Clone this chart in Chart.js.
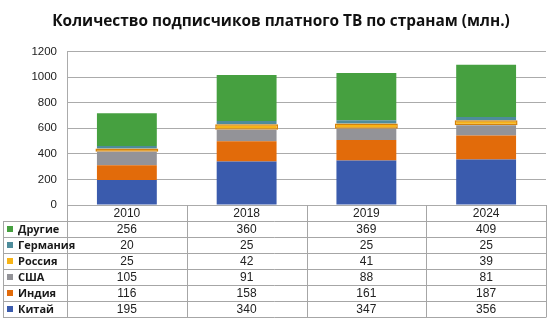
<!DOCTYPE html>
<html>
<head>
<meta charset="utf-8">
<script src="https://cdn.jsdelivr.net/npm/chart.js@4"></script>
<style>
  html, body { margin: 0; padding: 0; background: #fff; }
  #wrap { width: 552px; height: 323px; }
</style>
</head>
<body>
<div id="wrap"><canvas id="c" width="552" height="323"></canvas></div>
<script>
// Pay-TV subscribers by country, millions
const years = ['2010', '2018', '2019', '2024'];
const china   = [195, 340, 347, 356];
const india   = [116, 158, 161, 187];
const usa     = [105, 91, 88, 81];
const russia  = [25, 42, 41, 39];
const germany = [20, 25, 25, 25];
const others  = [256, 360, 369, 409];
const yTicks  = [0, 200, 400, 600, 800, 1000, 1200];

const series = [
  { label: 'Китай',    data: china,   color: '#3A5BAD', border: '#3A5BAD' },
  { label: 'Индия',    data: india,   color: '#E26B0A', border: '#E26B0A' },
  { label: 'США',      data: usa,     color: '#939398', border: '#939398' },
  { label: 'Россия',   data: russia,  color: '#F7B417', border: '#D4820C' },
  { label: 'Германия', data: germany, color: '#4E8C9B', border: '#4E8C9B' },
  { label: 'Другие',   data: others,  color: '#46A040', border: '#46A040' }
];

const ROW_H = 16;
const HEAD_H = 16;
const LEFT_COL_X = 3;

// Draws the data table under the plot, aligned with the category scale
const dataTable = {
  id: 'dataTable',
  afterDraw(chart) {
    const ctx = chart.ctx;
    const xs = chart.scales.x;
    const area = chart.chartArea;
    const n = years.length;
    const catW = (area.right - area.left) / n;
    const top = area.bottom;
    const rowsTop = top + HEAD_H;
    const rows = series.slice().reverse();
    const bottom = rowsTop + rows.length * ROW_H;

    ctx.save();
    ctx.strokeStyle = '#A6A6A6';
    ctx.lineWidth = 1;
    ctx.beginPath();
    // vertical lines of the category columns
    for (let i = 0; i <= n; i++) {
      const x = Math.round(area.left + i * catW) + 0.5;
      ctx.moveTo(x, top);
      ctx.lineTo(x, bottom);
    }
    // left border of the legend column
    ctx.moveTo(LEFT_COL_X + 0.5, rowsTop);
    ctx.lineTo(LEFT_COL_X + 0.5, bottom);
    // horizontal row lines
    for (let r = 0; r <= rows.length; r++) {
      const y = Math.round(rowsTop + r * ROW_H) + 0.5;
      ctx.moveTo(LEFT_COL_X, y);
      ctx.lineTo(Math.round(area.right) + 0.5, y);
    }
    ctx.stroke();

    // header: years
    ctx.fillStyle = '#222';
    ctx.textAlign = 'center';
    ctx.textBaseline = 'middle';
    ctx.font = '12px "Liberation Sans", Arial, sans-serif';
    years.forEach((yr, i) => {
      ctx.fillText(yr, xs.getPixelForValue(i), top + HEAD_H / 2 + 1);
    });

    // rows: legend key + values
    rows.forEach((s, r) => {
      const cy = rowsTop + r * ROW_H + ROW_H / 2 + 1;
      ctx.fillStyle = s.color;
      ctx.fillRect(7, Math.round(cy - 4), 6, 6);
      ctx.fillStyle = '#1a1a1a';
      ctx.textAlign = 'left';
      ctx.font = 'bold 11px "Open Sans", "Liberation Sans", sans-serif';
      ctx.fillText(s.label, 18, cy);
      ctx.textAlign = 'center';
      ctx.font = '12px "Liberation Sans", Arial, sans-serif';
      ctx.fillStyle = '#222';
      s.data.forEach((v, i) => {
        ctx.fillText(String(v), xs.getPixelForValue(i), cy);
      });
    });
    ctx.restore();
  }
};

new Chart(document.getElementById('c'), {
  type: 'bar',
  data: {
    labels: years,
    datasets: series.map(s => {
      const outlined = s.label === 'Россия';
      return {
        label: s.label,
        data: s.data,
        backgroundColor: s.color,
        borderColor: s.border,
        borderWidth: outlined ? 1.5 : 0,
        borderSkipped: false,
        categoryPercentage: 1.0,
        barPercentage: outlined ? 0.525 : 0.5
      };
    })
  },
  options: {
    responsive: false,
    animation: false,
    layout: { padding: { left: 0, right: 6, top: 0, bottom: 118 } },
    plugins: {
      legend: { display: false },
      tooltip: { enabled: false },
      title: {
        display: true,
        text: '\u00A0\u00A0\u00A0\u00A0Количество подписчиков платного ТВ по странам (млн.)',
        color: '#111',
        font: { family: '"Open Sans", "Liberation Sans", sans-serif', size: 15.4, weight: 'bold' },
        padding: { top: 12, bottom: 21 }
      }
    },
    scales: {
      x: {
        stacked: true,
        display: false
      },
      y: {
        stacked: true,
        min: 0,
        max: 1200,
        afterBuildTicks(scale) {
          scale.ticks = yTicks.map(v => ({ value: v }));
        },
        afterFit(scale) { scale.width = 67; },
        ticks: {
          color: '#222',
          padding: 10,
          font: { family: '"Liberation Sans", Arial, sans-serif', size: 11.5 },
          callback: v => String(v)
        },
        grid: { color: '#ABABAB', drawTicks: false },
        border: { display: true, color: '#ABABAB' }
      }
    }
  },
  plugins: [dataTable]
});
</script>
</body>
</html>
